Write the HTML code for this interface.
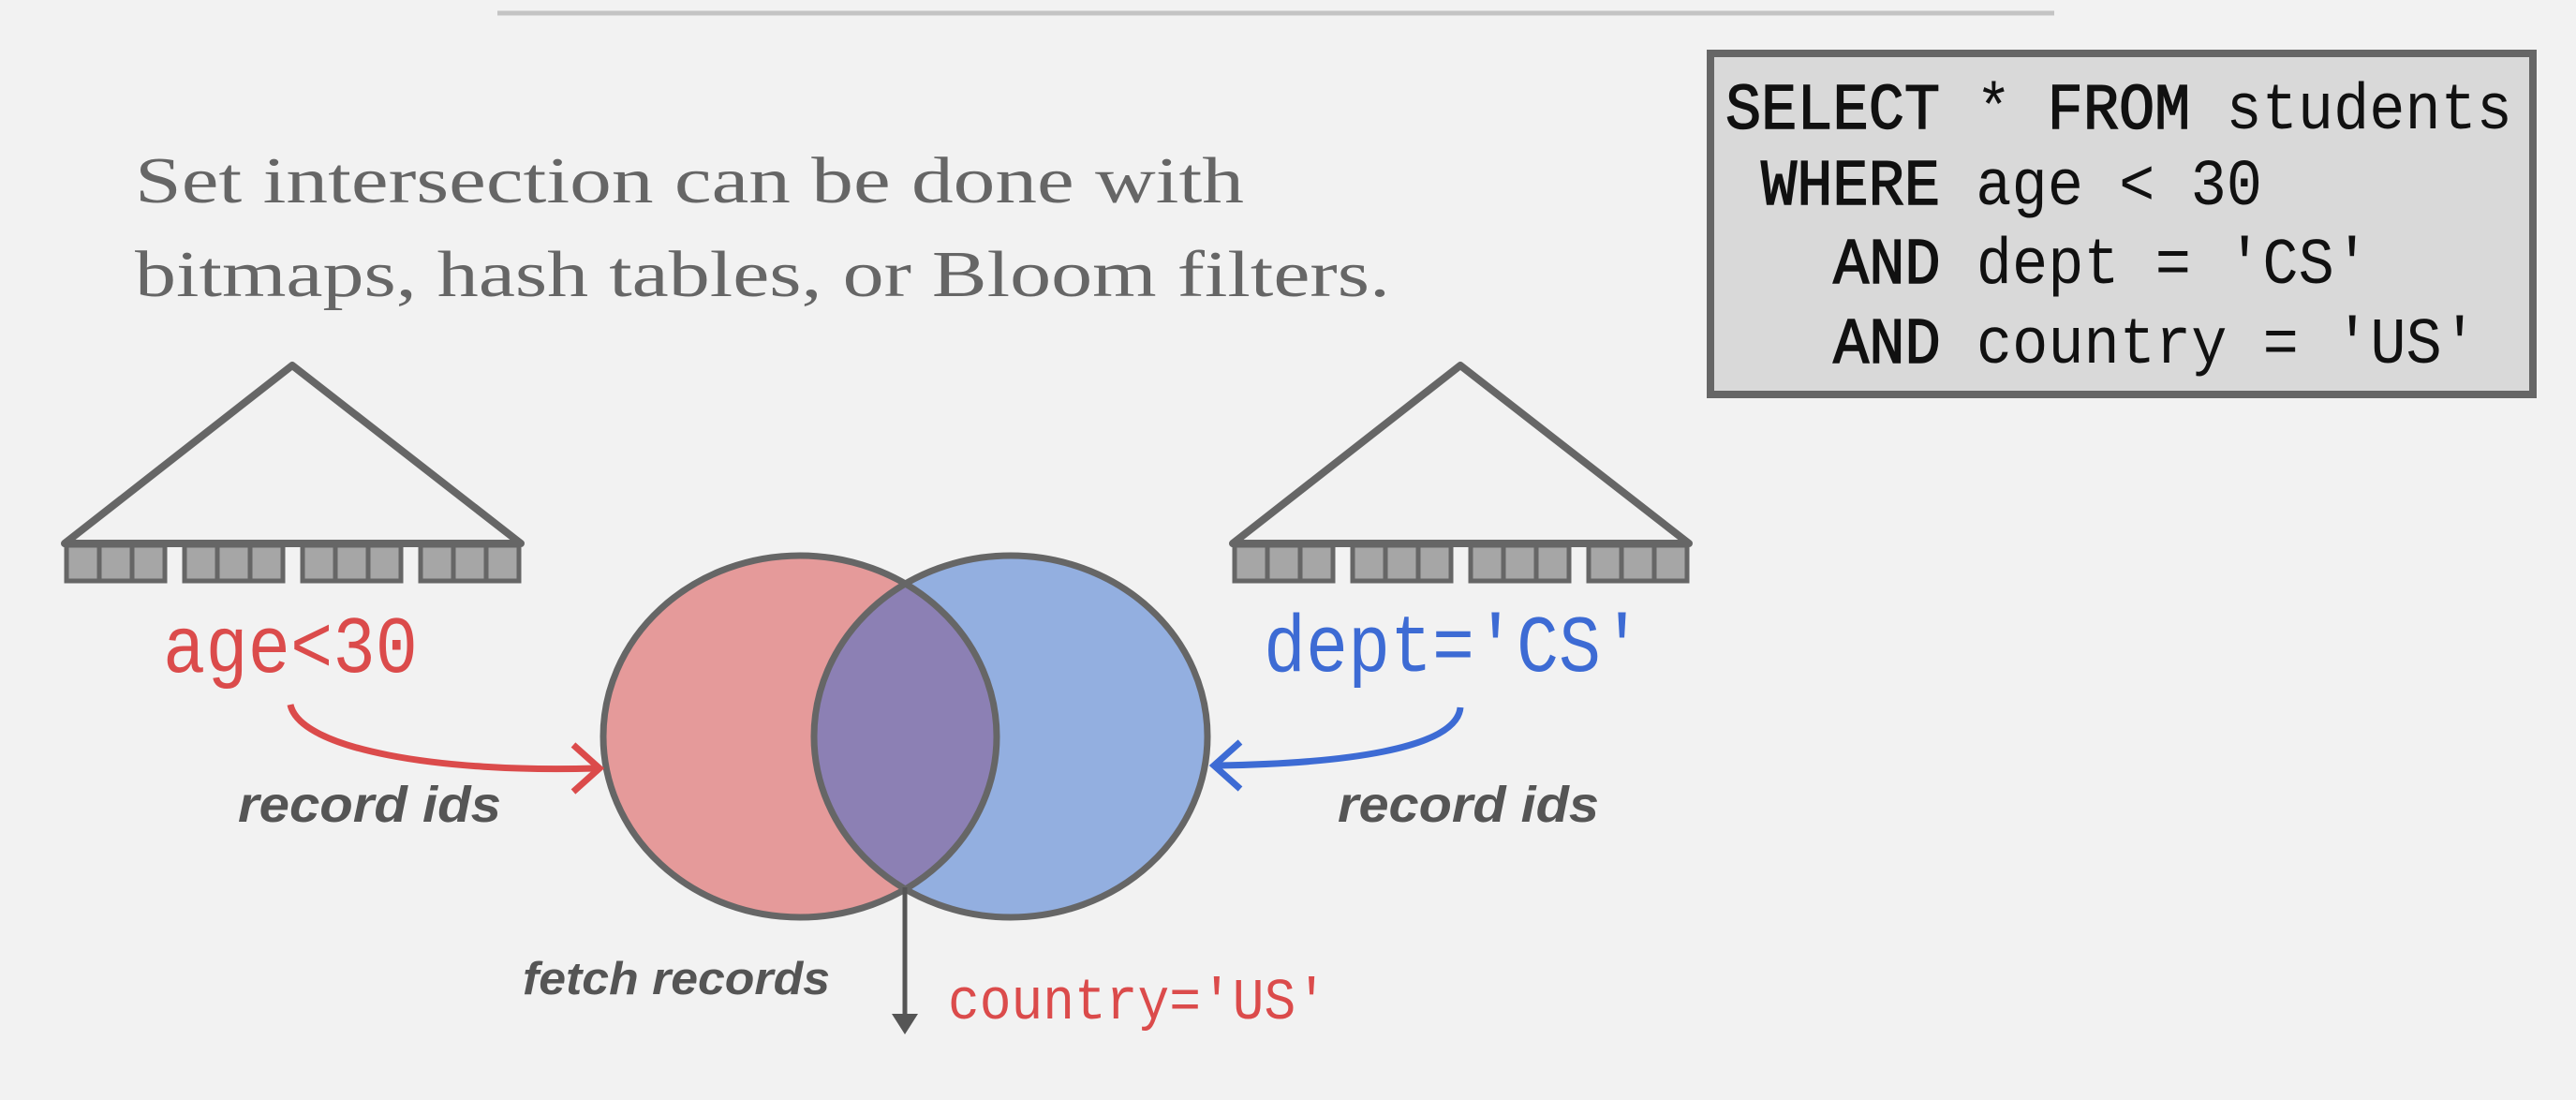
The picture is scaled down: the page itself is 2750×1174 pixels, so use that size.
<!DOCTYPE html>
<html><head><meta charset="utf-8"><style>
html,body{margin:0;padding:0;background:#f2f2f2;}
svg{display:block;}
</style></head><body>
<svg width="2750" height="1174" viewBox="0 0 2750 1174" xmlns="http://www.w3.org/2000/svg">
<rect width="2750" height="1174" fill="#f2f2f2"/>
<line x1="531" y1="14" x2="2193" y2="14" stroke="#c4c4c4" stroke-width="5"/>

<!-- SQL box -->
<rect x="1826" y="57" width="878" height="364" fill="#d9d9d9" stroke="#666" stroke-width="8"/>
<g font-family="Liberation Mono, monospace" font-size="70" fill="#111">
<text x="1842" y="137" textLength="840" lengthAdjust="spacingAndGlyphs"><tspan stroke="#111" stroke-width="1.5">SELECT</tspan> * <tspan stroke="#111" stroke-width="1.5">FROM</tspan> students</text>
<text x="1880" y="218" textLength="535" lengthAdjust="spacingAndGlyphs"><tspan stroke="#111" stroke-width="1.5">WHERE</tspan> age &lt; 30</text>
<text x="1957" y="302" textLength="573" lengthAdjust="spacingAndGlyphs"><tspan stroke="#111" stroke-width="1.5">AND</tspan> dept = 'CS'</text>
<text x="1957" y="387" textLength="688" lengthAdjust="spacingAndGlyphs"><tspan stroke="#111" stroke-width="1.5">AND</tspan> country = 'US'</text>
</g>

<!-- heading -->
<g font-family="Liberation Serif, serif" font-size="70" fill="#666">
<text x="144" y="216" textLength="1184" lengthAdjust="spacingAndGlyphs">Set intersection can be done with</text>
<text x="144" y="316" textLength="1340" lengthAdjust="spacingAndGlyphs">bitmaps, hash tables, or Bloom filters.</text>
</g>

<!-- left tree -->
<g id="tree">
<polygon points="312,390 69,580 556,580" fill="none" stroke="#666" stroke-width="8" stroke-linejoin="round"/>
<g fill="#a6a6a6" stroke="#666" stroke-width="5">
<rect x="71" y="582" width="35" height="38"/><rect x="106" y="582" width="35" height="38"/><rect x="141" y="582" width="35" height="38"/>
<rect x="197" y="582" width="35" height="38"/><rect x="232" y="582" width="35" height="38"/><rect x="267" y="582" width="35" height="38"/>
<rect x="323" y="582" width="35" height="38"/><rect x="358" y="582" width="35" height="38"/><rect x="393" y="582" width="35" height="38"/>
<rect x="449" y="582" width="35" height="38"/><rect x="484" y="582" width="35" height="38"/><rect x="519" y="582" width="35" height="38"/>
</g>
</g>
<use href="#tree" transform="translate(1247,0)"/>

<!-- labels -->
<text x="174" y="717" font-family="Liberation Mono, monospace" font-size="86" fill="#db4b4b" textLength="272" lengthAdjust="spacingAndGlyphs">age&lt;30</text>
<text x="1349" y="716" font-family="Liberation Mono, monospace" font-size="86" fill="#3d6bd4" textLength="405" lengthAdjust="spacingAndGlyphs">dept='CS'</text>

<!-- venn -->
<ellipse cx="854" cy="786" rx="210" ry="193" fill="#e59a9a"/>
<ellipse cx="1079" cy="786" rx="210" ry="193" fill="#93afe0"/>
<clipPath id="cl"><ellipse cx="854" cy="786" rx="210" ry="193"/></clipPath>
<ellipse cx="1079" cy="786" rx="210" ry="193" fill="#8c80b4" clip-path="url(#cl)"/>
<ellipse cx="854" cy="786" rx="210" ry="193" fill="none" stroke="#666" stroke-width="7"/>
<ellipse cx="1079" cy="786" rx="210" ry="193" fill="none" stroke="#666" stroke-width="7"/>

<!-- arrows -->
<path d="M310,752 C320,800 470,825 636,820" fill="none" stroke="#db4b4b" stroke-width="7"/>
<path d="M612,795 L640,820 L612,845" fill="none" stroke="#db4b4b" stroke-width="7"/>
<path d="M1559,755 C1555,800 1430,815 1300,817" fill="none" stroke="#3d6bd4" stroke-width="7"/>
<path d="M1324,792 L1296,817 L1324,842" fill="none" stroke="#3d6bd4" stroke-width="7"/>
<line x1="966" y1="947" x2="966" y2="1100" stroke="#555" stroke-width="5"/>
<path d="M952,1082 L966,1104 L980,1082 Z" fill="#555"/>

<g font-family="Liberation Sans, sans-serif" font-weight="bold" font-style="italic" fill="#555">
<text x="254" y="877" font-size="54" textLength="281" lengthAdjust="spacingAndGlyphs">record ids</text>
<text x="1428" y="877" font-size="54" textLength="279" lengthAdjust="spacingAndGlyphs">record ids</text>
<text x="558" y="1061" font-size="49" textLength="328" lengthAdjust="spacingAndGlyphs">fetch records</text>
</g>
<text x="1012" y="1087" font-family="Liberation Mono, monospace" font-size="62" fill="#db4b4b" textLength="405" lengthAdjust="spacingAndGlyphs">country='US'</text>
</svg>
</body></html>
